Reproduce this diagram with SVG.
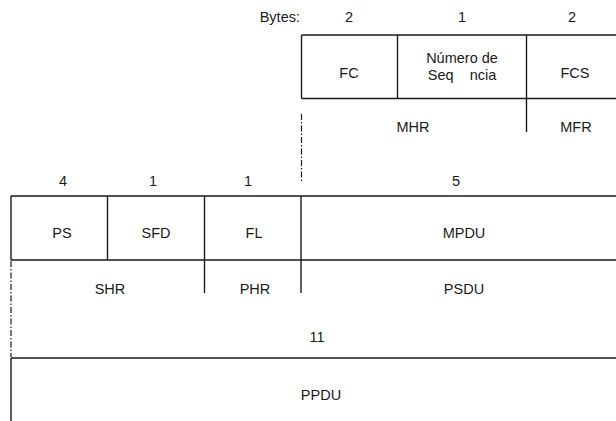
<svg xmlns="http://www.w3.org/2000/svg" width="616" height="421" viewBox="0 0 616 421">
<style>
text{font-family:"Liberation Sans",Arial,sans-serif;font-size:14.5px;fill:#1a1a1a;text-anchor:middle}
.ln{stroke:#1a1a1a;stroke-width:1.4;fill:none}
.dash{stroke:#1a1a1a;stroke-width:1.2;fill:none;stroke-dasharray:6 2 1.5 2}
</style>
<rect width="616" height="421" fill="#fff"/>
<g id="mac">
<text x="300" y="22" style="text-anchor:end">Bytes:</text>
<text x="349" y="22">2</text>
<text x="462" y="22">1</text>
<text x="572" y="22">2</text>
<g id="fc"><path class="ln" d="M301.5 35H620M301.5 98.5H620M301.5 35V98.5"/><text x="349" y="78">FC</text></g>
<g id="seq"><path class="ln" d="M397.5 35V98.5"/><text x="462" y="63">Número de</text><text x="462" y="80" xml:space="preserve">Seq    ncia</text></g>
<g id="fcs"><path class="ln" d="M526.5 35V132"/><text x="575" y="78">FCS</text></g>
<text x="413" y="132">MHR</text>
<text x="576" y="132">MFR</text>
</g>
<g id="connectors">
<path class="dash" d="M301.5 114V181"/>
<path class="dash" d="M11 261V357"/>
</g>
<g id="phy">
<text x="63" y="186">4</text>
<text x="153" y="186">1</text>
<text x="248" y="186">1</text>
<text x="456" y="186">5</text>
<path class="ln" d="M11 196H620M11 260H620M11 196V260"/>
<g id="ps"><text x="62" y="238">PS</text></g>
<g id="sfd"><path class="ln" d="M107.5 196V260"/><text x="156" y="238">SFD</text></g>
<g id="fl"><path class="ln" d="M204.5 196V293"/><text x="254" y="238">FL</text></g>
<g id="mpdu"><path class="ln" d="M301 196V293"/><text x="464" y="238">MPDU</text></g>
<text x="110" y="294">SHR</text>
<text x="255" y="294">PHR</text>
<text x="464" y="294">PSDU</text>
<text x="317" y="342">11</text>
<g id="ppdu"><path class="ln" d="M11 358H620M11 358V425"/><text x="321" y="400">PPDU</text></g>
</g>
</svg>
